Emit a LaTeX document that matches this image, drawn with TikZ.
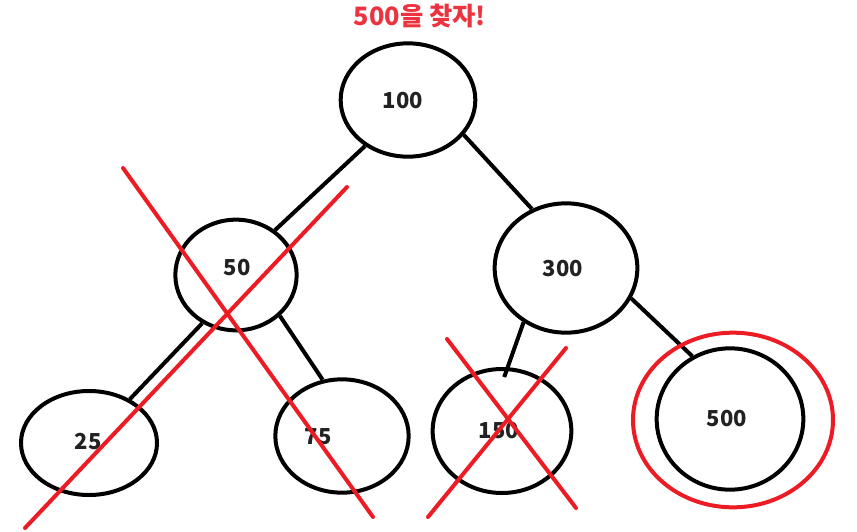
\documentclass[tikz,border=0pt]{standalone}
\usepackage{fontspec}
\setmainfont{Noto Sans CJK KR}
\usepackage{xcolor}
\usetikzlibrary{shapes.geometric}
\definecolor{paintred}{RGB}{237,28,36}
\definecolor{titlered}{RGB}{236,52,64}
\definecolor{ink}{RGB}{34,34,34}

\tikzset{
  bstnode/.style={ellipse,draw,line width=3pt,inner sep=0pt},
  numlabel/.style={font=\fontsize{16.5}{20}\selectfont\bfseries,text=ink,inner sep=0pt},
  treeedge/.style={line width=3pt},
  crossline/.style={paintred,line width=3pt,line cap=round},
}

\begin{document}
\begin{tikzpicture}[x=0.75pt,y=-0.75pt]
\useasboundingbox (0,0) rectangle (857,532);

% title
\node[font=\fontsize{19}{23}\selectfont\bfseries,text=titlered] (title) at (420,16) {500을 찾자!};

% tree nodes
\node[bstnode,minimum width=101pt,minimum height=85pt] (n100) at (408,100) {};
\node[bstnode,minimum width=91pt,minimum height=83pt] (n50) at (236,275) {};
\node[bstnode,minimum width=107pt,minimum height=97pt] (n300) at (566,268) {};
\node[bstnode,minimum width=102pt,minimum height=78pt] (n25) at (89,443) {};
\node[bstnode,minimum width=100pt,minimum height=85pt] (n75) at (342,436) {};
\node[bstnode,minimum width=104pt,minimum height=93pt] (n150) at (502,431) {};
\node[bstnode,minimum width=110pt,minimum height=106pt] (n500) at (730,419) {};

% values
\node[numlabel] (t100) at (403,101) {100};
\node[numlabel] (t50) at (237,268) {50};
\node[numlabel] (t300) at (563,269) {300};
\node[numlabel] (t25) at (88,442) {25};
\node[numlabel] (t75) at (318,437) {75};
\node[numlabel] (t150) at (499,431) {150};
\node[numlabel] (t500) at (727,419) {500};

% edges
\draw[treeedge] (n100.227) -- (n50.49);
\draw[treeedge] (n100.328) -- (n300.120);
\draw[treeedge] (n50.235) -- (n25.47);
\draw[treeedge] (n50.317) -- (n75.109);
\draw[treeedge] (n300.232) -- ([yshift=-7.5pt]n150.88);
\draw[treeedge] (n300.335) -- (n500.121);

% crossed out subtrees
\draw[crossline] (123,168) -- (373,517);
\draw[crossline] (347,187) -- (25,528);
\draw[crossline] (447,339) -- (576,508);
\draw[crossline] (566,348) -- (428,517);

% found it
\node[ellipse,draw=paintred,line width=3pt,inner sep=0pt,
      minimum width=150pt,minimum height=131pt] (ring) at (733,420) {};
\end{tikzpicture}
\end{document}
